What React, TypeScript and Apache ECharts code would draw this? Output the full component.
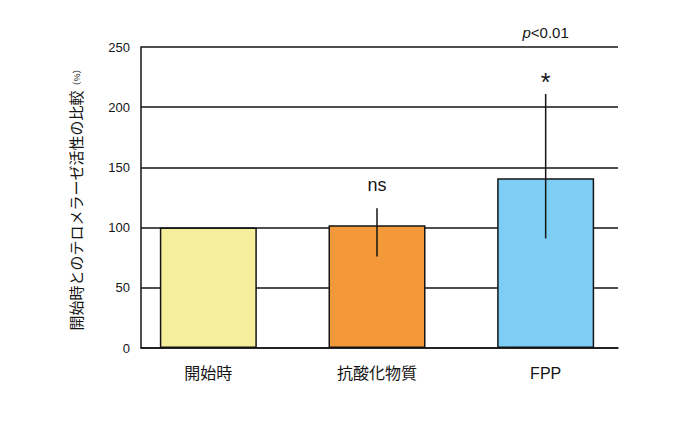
import { useEffect, useRef } from "react";
import * as echarts from "echarts";

const CATEGORIES = ["開始時", "抗酸化物質", "FPP"];
const VALUES = [100, 102, 141];
const ERR_LOW = [null, 76, 91];
const ERR_HIGH = [null, 116, 211];
const SIG_LABELS = ["", "ns", "*"];
const P_LABEL = "p<0.01";
const P_CATEGORY = 2;
const Y_TICKS = { min: 0, max: 250, interval: 50 };
const Y_NAME = "開始時とのテロメラーゼ活性の比較";

const BAR_COLORS = ["#F5EF9B", "#F4993A", "#7DCDF4"];
const INK = "#151515";
const FONT = "'Liberation Sans', 'Noto Sans CJK JP', sans-serif";
const LABEL_STYLE: Record<string, { size: number; gap: number }> = {
  ns: { size: 18, gap: 23 },
  "*": { size: 25, gap: 12 },
};

export default function App() {
  const ref = useRef<HTMLDivElement>(null);

  useEffect(() => {
    if (!ref.current) return;
    document.body.style.margin = "0";
    const chart = echarts.init(ref.current, null, { renderer: "svg" });
    const frame = { top: 47, bottom: 84 };

    chart.setOption({
      animation: false,
      textStyle: { fontFamily: FONT },
      grid: [
        { left: 141, right: 82, ...frame },
        { left: 124, right: 70, ...frame },
      ],
      xAxis: [
        {
          type: "category", gridIndex: 0, data: CATEGORIES,
          axisLine: { lineStyle: { color: INK, width: 1.5 } },
          axisTick: { show: false }, axisLabel: { show: false },
        },
        {
          type: "category", gridIndex: 1, data: CATEGORIES,
          axisLine: { show: false }, axisTick: { show: false },
          axisLabel: { color: INK, fontSize: 16, margin: 17, fontFamily: FONT },
        },
      ],
      yAxis: [
        {
          type: "value", gridIndex: 0, ...Y_TICKS,
          name: `${Y_NAME}{s|（%）}`,
          nameLocation: "middle", nameGap: 57, nameRotate: 90,
          nameTextStyle: {
            color: INK, fontSize: 15, fontFamily: FONT,
            rich: { s: { fontSize: 9, color: INK, fontFamily: FONT } },
          },
          axisLine: { show: true, lineStyle: { color: INK, width: 1.5 } },
          axisTick: { show: false },
          axisLabel: { color: INK, fontSize: 13, margin: 11, fontFamily: FONT },
          splitLine: { lineStyle: { color: INK, width: 1.5 } },
        },
        {
          type: "value", gridIndex: 1, ...Y_TICKS, show: false,
          splitLine: { show: false },
        },
      ],
      series: [
        {
          type: "bar", xAxisIndex: 1, yAxisIndex: 1, barWidth: 97,
          data: VALUES.map((v, i) => ({
            value: v,
            itemStyle: { color: BAR_COLORS[i], borderColor: INK, borderWidth: 1.5 },
          })),
        },
        {
          type: "custom", xAxisIndex: 1, yAxisIndex: 1, z: 5,
          data: CATEGORIES.map((_, i) => [i, ERR_LOW[i] ?? 0, ERR_HIGH[i] ?? 0]),
          renderItem: (params: any, api: any) => {
            if (ERR_LOW[params.dataIndex] == null) return null;
            const lo = api.coord([api.value(0), api.value(1)]);
            const hi = api.coord([api.value(0), api.value(2)]);
            const label = SIG_LABELS[params.dataIndex];
            const st = LABEL_STYLE[label];
            return {
              type: "group",
              children: [
                {
                  type: "line",
                  shape: { x1: lo[0], y1: lo[1], x2: hi[0], y2: hi[1] },
                  style: { stroke: INK, lineWidth: 1.5 },
                },
                {
                  type: "text",
                  style: {
                    text: label, x: hi[0], y: hi[1] - st.gap,
                    align: "center", verticalAlign: "middle",
                    fill: INK, fontSize: st.size, fontFamily: FONT,
                  },
                },
              ],
            };
          },
        },
        {
          type: "custom", xAxisIndex: 1, yAxisIndex: 1, z: 5, clip: false,
          data: [[P_CATEGORY, Y_TICKS.max]],
          renderItem: (_params: any, api: any) => {
            const p = api.coord([api.value(0), api.value(1)]);
            return {
              type: "text",
              style: {
                text: `{i|p}${P_LABEL.slice(1)}`, x: p[0], y: p[1] - 15,
                align: "center", verticalAlign: "middle",
                fill: INK, fontSize: 15, fontFamily: FONT,
                rich: { i: { fontStyle: "italic", fontSize: 15, fontFamily: FONT, fill: INK } },
              },
            };
          },
        },
      ],
    });

    return () => chart.dispose();
  }, []);

  return <div ref={ref} style={{ width: 700, height: 432 }} />;
}
